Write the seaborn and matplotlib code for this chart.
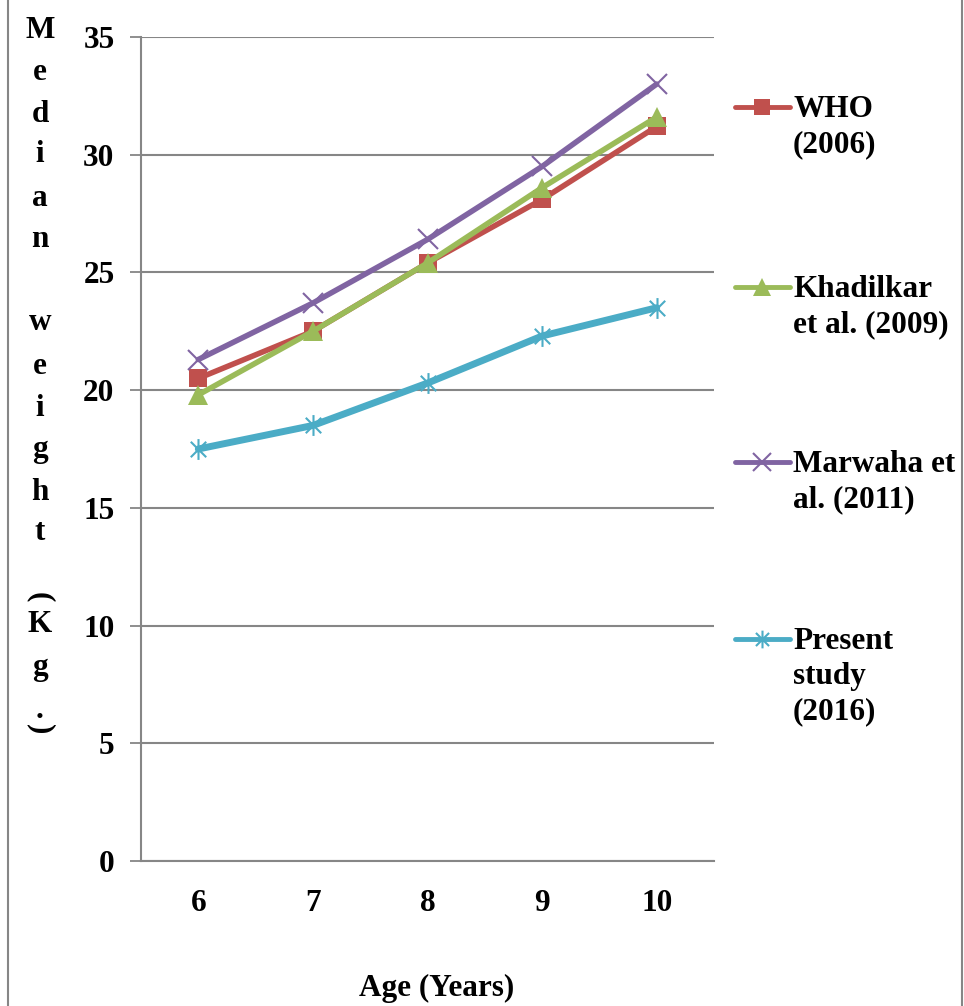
import numpy as np
import pandas as pd
import seaborn as sns
import matplotlib
matplotlib.use("Agg")
import matplotlib.pyplot as plt
from matplotlib.path import Path
from matplotlib.lines import Line2D
from matplotlib.patches import Rectangle

# ---- data ----
ages = [6, 7, 8, 9, 10]
who_2006 = [20.5, 22.5, 25.4, 28.1, 31.2]
khadilkar_2009 = [19.8, 22.5, 25.4, 28.6, 31.6]
marwaha_2011 = [21.3, 23.7, 26.4, 29.5, 33.0]
present_2016 = [17.5, 18.5, 20.3, 22.3, 23.5]
series_names = ["WHO (2006)", "Khadilkar et al. (2009)", "Marwaha et al. (2011)", "Present study (2016)"]
legend_labels = ["WHO\n(2006)", "Khadilkar\net al. (2009)", "Marwaha et\nal. (2011)", "Present\nstudy\n(2016)"]
y_ticks = [0, 5, 10, 15, 20, 25, 30, 35]

sns.set_theme(style="white")
plt.rcParams["font.family"] = ["Liberation Serif", "DejaVu Serif"]
plt.rcParams["font.weight"] = "bold"
plt.rcParams["text.color"] = "black"

FS = 22.5
W, H = 964, 1006
fig = plt.figure(figsize=(W / 100, H / 100), dpi=100)
ax = fig.add_axes([141 / W, 1 - 861 / H, (714 - 141) / W, (861 - 37) / H])

asterisk = Path([(-1, -1), (1, 1), (-1, 1), (1, -1), (0, -1.35), (0, 1.35)],
                [Path.MOVETO, Path.LINETO, Path.MOVETO, Path.LINETO, Path.MOVETO, Path.LINETO])

styles = [
    dict(color="#C0504D", marker="s", ms=13, mew=0, lw=4.0),
    dict(color="#9BBB59", marker="^", ms=15, mew=0, lw=4.0),
    dict(color="#8064A2", marker="x", ms=15, mew=1.5, lw=4.0),
    dict(color="#4BACC6", marker=asterisk, ms=15, mew=1.5, lw=5.0),
]
values = [who_2006, khadilkar_2009, marwaha_2011, present_2016]

for name, vals, st in zip(series_names, values, styles):
    df = pd.DataFrame({"Age": ages, "Weight": vals})
    sns.lineplot(data=df, x="Age", y="Weight", ax=ax, color=st["color"], linewidth=st["lw"],
                 marker=st["marker"], markersize=st["ms"], markeredgewidth=st["mew"],
                 markeredgecolor=st["color"], markerfacecolor=st["color"], zorder=3)

grey = "#868686"
ax.set_xlim(5.5, 10.5)
ax.set_ylim(0, 35)
ax.set_yticks(y_ticks)
ax.set_xticks(ages)
ax.set_xticks([a - 0.5 for a in ages] + [ages[-1] + 0.5], minor=True)
ax.yaxis.grid(True, color=grey, linewidth=1.5)
ax.set_axisbelow(True)
for s in ["top", "right"]:
    ax.spines[s].set_visible(False)
for s in ["left", "bottom"]:
    ax.spines[s].set_color(grey)
    ax.spines[s].set_linewidth(1.5)
ax.tick_params(axis="x", which="major", length=0, pad=20, labelsize=FS, labelcolor="black")
ax.tick_params(axis="x", which="minor", length=8, width=1.3, color=grey, direction="out")
ax.tick_params(axis="y", which="major", length=8, width=1.3, color=grey, direction="out",
               left=True, pad=11, labelsize=FS, labelcolor="black")
for lab in ax.get_xticklabels() + ax.get_yticklabels():
    lab.set_fontweight("bold")
ax.set_xlabel("")
ax.set_ylabel("")

fig.text(437 / W, 1 - 988 / H, "Age (Years)", ha="center", va="center", fontsize=FS, fontweight="bold")

# vertical stacked y label
chars = ["M", "e", "d", "i", "a", "n", "w", "e", "i", "g", "h", "t", "(", "K", "g", ".", ")"]
ypos = [30, 72, 115, 155, 198, 240, 323, 366, 408, 450, 492, 532, 597, 624, 668, 710, 729]
for c, yp in zip(chars, ypos):
    rot = -90 if c in "()" else 0
    fig.text(40 / W, 1 - yp / H, c, ha="center", va="center", fontsize=FS, fontweight="bold", rotation=rot)

# manual legend
leg_y = [107, 287, 462, 639]
for lab, st, yp in zip(legend_labels, styles, leg_y):
    yf = 1 - yp / H
    fig.add_artist(Line2D([735 / W, 790 / W], [yf, yf], color=st["color"], lw=3.5, transform=fig.transFigure))
    fig.add_artist(Line2D([762 / W], [yf], color=st["color"], marker=st["marker"], markersize=st["ms"] * 0.85,
                          markeredgewidth=st["mew"], markeredgecolor=st["color"], markerfacecolor=st["color"],
                          transform=fig.transFigure))
    fig.text(793 / W, 1 - (yp - 12) / H, lab, ha="left", va="top", fontsize=FS, fontweight="bold", linespacing=1.27)

# outer frame
fig.add_artist(Rectangle((8 / W, -0.02), (962 - 8) / W, 1.04, transform=fig.transFigure,
                         fill=False, edgecolor=grey, linewidth=1.5))

fig.savefig("out.png", dpi=100)
